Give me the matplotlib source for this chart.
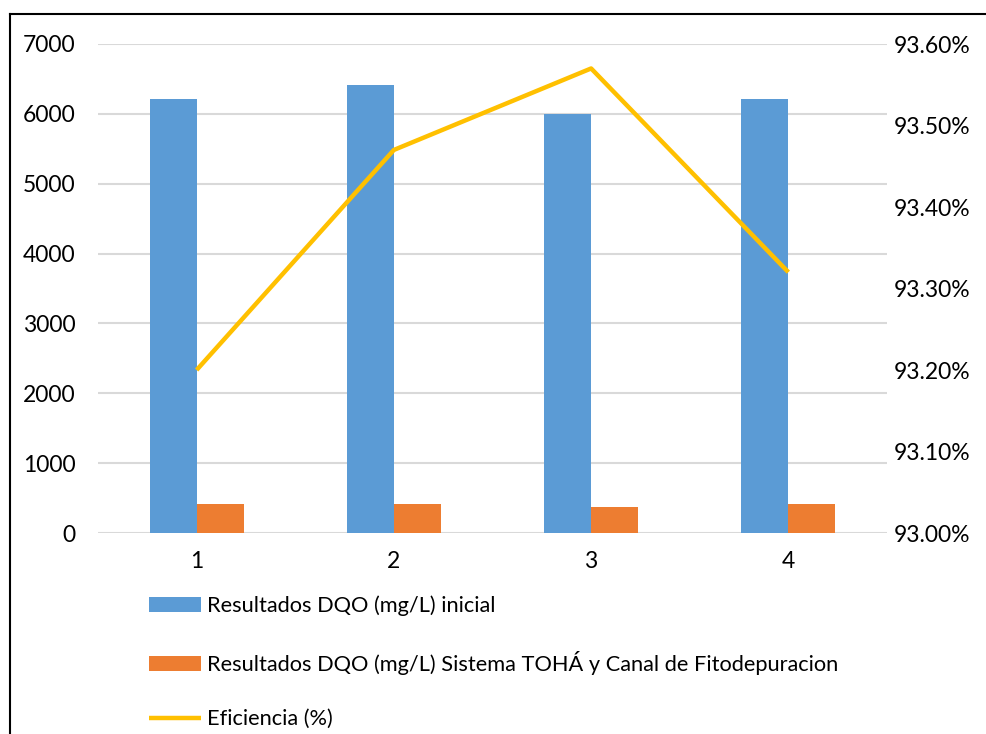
import numpy as np
import matplotlib.pyplot as plt
from matplotlib.lines import Line2D
from matplotlib.ticker import FuncFormatter

plt.rcParams['font.family'] = ['Lato', 'DejaVu Sans']

categorias = ['1', '2', '3', '4']
dqo_inicial = [6210, 6420, 6000, 6215]
dqo_sistema = [415, 410, 378, 410]
eficiencia = [93.20, 93.47, 93.57, 93.32]

azul = '#5B9BD5'
naranja = '#ED7D31'
oro = '#FFC000'

fig = plt.figure(figsize=(9.87, 7.34), dpi=100)
ax = fig.add_axes([98/987, 1-533/734, 789/987, 489/734])
ax2 = ax.twinx()

x = np.arange(len(categorias))
w = 0.238
b1 = ax.bar(x - w/2, dqo_inicial, w, color=azul, label='Resultados DQO (mg/L) inicial', zorder=2)
b2 = ax.bar(x + w/2, dqo_sistema, w, color=naranja,
            label='Resultados DQO (mg/L) Sistema TOHÁ y Canal de Fitodepuracion', zorder=2)
l1, = ax2.plot(x, eficiencia, color=oro, lw=3.2, solid_capstyle='butt', label='Eficiencia (%)')

ax.set_xlim(-0.5, 3.5)
ax.set_ylim(0, 7000)
ax.set_yticks(range(0, 7001, 1000))
ax.set_xticks(x)
ax.set_xticklabels(categorias)
ax.yaxis.grid(True, color='#D9D9D9', lw=1.5, zorder=0)
ax.set_axisbelow(True)

ax2.set_ylim(93.0, 93.6)
ax2.set_yticks(np.arange(93.0, 93.61, 0.1))
ax2.yaxis.set_major_formatter(FuncFormatter(lambda v, p: f'{v:.2f}%'))

for a in (ax, ax2):
    for s in a.spines.values():
        s.set_visible(False)
    a.tick_params(length=0, labelsize=16.5, colors='black')
ax.tick_params(axis='y', pad=16)
ax.tick_params(axis='x', pad=13)
ax2.tick_params(axis='y', pad=5)

fig.legend(handles=[b1, b2, l1], loc='upper left', bbox_to_anchor=(140/987, 1-587/734),
           frameon=False, fontsize=15.7, labelspacing=1.58, handlelength=2.4,
           handletextpad=0.25, borderaxespad=0)

fig.add_artist(Line2D([10/987, 10/987], [0, 1-14/734], color='black', lw=1.5))
fig.add_artist(Line2D([10/987, 1], [1-14/734, 1-14/734], color='black', lw=1.5))

fig.savefig('out.png', dpi=100)
